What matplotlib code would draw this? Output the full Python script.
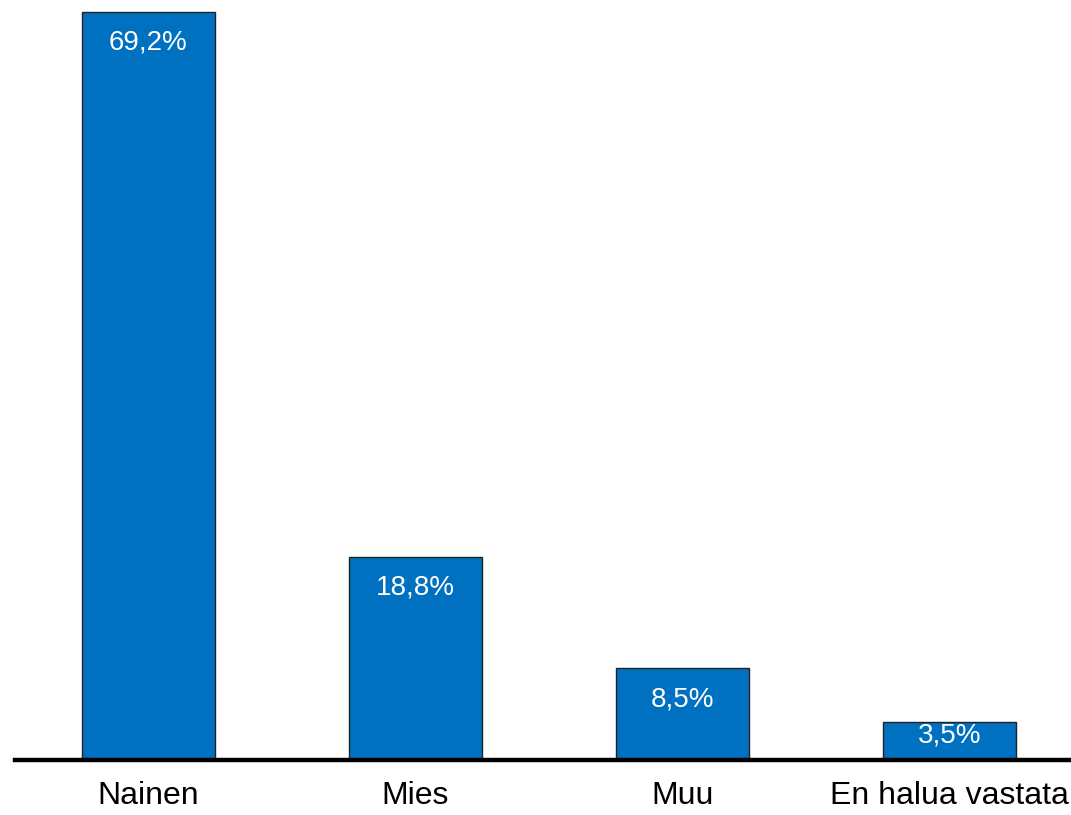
import matplotlib.pyplot as plt

categories = ["Nainen", "Mies", "Muu", "En halua vastata"]
values = [69.2, 18.8, 8.5, 3.5]
labels = ["69,2%", "18,8%", "8,5%", "3,5%"]

plt.rcParams['font.family'] = ['Liberation Sans', 'DejaVu Sans']

fig = plt.figure(figsize=(10.71, 8.15), dpi=100)
ax = fig.add_axes([15 / 1071, 55 / 815, 1068 / 1071, 760 / 815])

x = range(len(categories))
bars = ax.bar(x, values, width=0.5, color="#0070C0", edgecolor="#222222", linewidth=1)

# value labels near the top of each bar, kept above the baseline for short bars
for b, lab in zip(bars, labels):
    y = max(b.get_height() - 2.87, 2.3)
    ax.text(b.get_x() + b.get_width() / 2, y, lab,
            ha="center", va="center", color="white", fontsize=20)

ax.set_xlim(-0.5, 3.5)
ax.set_ylim(0, 70.3)
ax.set_xticks(list(x))
ax.set_xticklabels(categories, fontsize=23)
ax.tick_params(axis="x", length=0, pad=15)
ax.set_yticks([])
for s in ["top", "right", "left"]:
    ax.spines[s].set_visible(False)
ax.spines["bottom"].set_linewidth(3.2)
ax.spines["bottom"].set_color("black")

fig.savefig("out.png", dpi=100)
